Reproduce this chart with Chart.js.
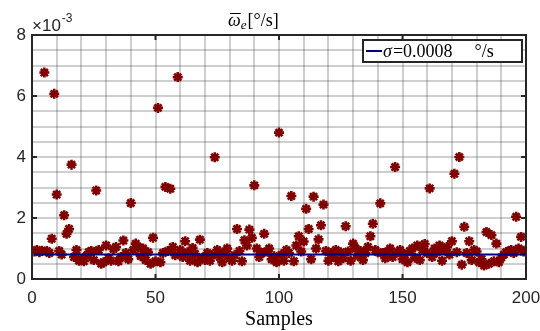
<!DOCTYPE html>
<html>
<head>
<meta charset="utf-8">
<script src="https://cdn.jsdelivr.net/npm/chart.js@4.4.1/dist/chart.umd.min.js"></script>
<style>
  html, body { margin: 0; padding: 0; background: #fff; }
  #wrap { width: 540px; height: 331px; }
</style>
</head>
<body>
<div id="wrap"><canvas id="errChart"></canvas></div>
<script>
// mean error per sample, in units of 10^-3 deg/s
const yExponent = -3;
const xTicks = [0, 50, 100, 150, 200];
const yTicks = [0, 2, 4, 6, 8];
const sigma = 0.0008;
const sigmaLabel = '0.0008';
const errValues = [
    0.90, 0.95, 0.88, 0.93, 6.77, 0.92, 0.85, 1.32, 6.07, 2.77,
    0.92, 0.80, 2.09, 1.48, 1.64, 3.75, 0.72, 0.95, 0.60, 0.65,
    0.58, 0.75, 0.88, 0.92, 0.62, 2.90, 0.95, 0.50, 0.55, 1.10,
    0.68, 0.60, 0.98, 1.05, 0.58, 0.72, 1.26, 0.85, 0.65, 2.49,
    0.95, 1.16, 1.05, 0.75, 1.00, 0.62, 0.88, 0.50, 1.35, 0.58,
    5.61, 0.55, 0.85, 3.02, 0.92, 2.96, 1.05, 0.78, 6.62, 0.95,
    0.72, 1.24, 0.88, 0.60, 1.02, 0.82, 0.55, 1.29, 0.70, 0.62,
    0.85, 0.60, 0.78, 3.99, 0.95, 0.72, 0.55, 0.88, 1.00, 0.68,
    0.60, 0.78, 1.64, 0.92, 0.58, 1.27, 1.10, 1.62, 1.35, 3.07,
    1.00, 0.72, 0.85, 1.48, 0.90, 1.00, 0.65, 0.75, 0.55, 4.80,
    0.80, 0.60, 0.95, 0.85, 2.72, 0.58, 1.10, 1.40, 0.90, 1.23,
    2.30, 1.64, 0.65, 2.70, 1.00, 1.30, 1.76, 2.44, 0.92, 0.60,
    0.85, 0.72, 0.95, 0.58, 0.88, 0.68, 1.73, 0.90, 0.60, 1.16,
    1.00, 0.75, 0.92, 0.62, 0.85, 1.05, 1.40, 1.81, 0.95, 0.88,
    2.48, 0.85, 0.68, 0.90, 1.00, 0.72, 3.67, 0.88, 0.95, 0.65,
    0.80, 0.55, 0.92, 1.00, 0.70, 1.10, 0.62, 0.95, 1.15, 0.85,
    2.97, 0.72, 1.00, 0.88, 1.10, 0.60, 0.95, 1.05, 0.80, 1.24,
    3.45, 0.88, 4.00, 0.47, 1.71, 0.85, 1.24, 0.62, 0.95, 0.90,
    0.55, 0.65, 0.44, 1.54, 0.50, 1.44, 0.58, 1.16, 0.55, 0.70,
    0.80, 0.88, 0.92, 0.95, 0.85, 2.04, 1.00, 1.38, 0.90, 0.95
];

const colors = {
    marker: '#800000',
    sigma: '#00007f',
    axis: '#262626',
    grid: 'rgba(0, 0, 0, 0.19)'
};

const points = errValues.map((v, i) => ({ x: i + 1, y: v }));
const sigmaScaled = sigma / Math.pow(10, yExponent);
const sigmaLine = [{ x: 1, y: sigmaScaled }, { x: errValues.length, y: sigmaScaled }];

// frame, inward ticks, exponent, title, x label and legend box
const axesDecor = {
    id: 'axesDecor',
    afterDraw(chart) {
        const { ctx, chartArea: a, scales: { x, y } } = chart;
        ctx.save();
        ctx.strokeStyle = colors.axis;
        ctx.lineWidth = 2;
        ctx.strokeRect(a.left, a.top, a.right - a.left, a.bottom - a.top);

        const tl = 5;
        ctx.beginPath();
        xTicks.forEach(v => {
            const px = x.getPixelForValue(v);
            ctx.moveTo(px, a.bottom); ctx.lineTo(px, a.bottom - tl);
            ctx.moveTo(px, a.top); ctx.lineTo(px, a.top + tl);
        });
        yTicks.forEach(v => {
            const py = y.getPixelForValue(v);
            ctx.moveTo(a.left, py); ctx.lineTo(a.left + tl, py);
            ctx.moveTo(a.right, py); ctx.lineTo(a.right - tl, py);
        });
        ctx.stroke();

        // x10^-3 above the y axis
        ctx.fillStyle = colors.axis;
        ctx.textBaseline = 'alphabetic';
        ctx.textAlign = 'left';
        ctx.font = '17px "Liberation Sans", Arial, sans-serif';
        ctx.fillText('\u00d710', a.left, a.top - 4);
        const w10 = ctx.measureText('\u00d710').width;
        ctx.font = '12px "Liberation Sans", Arial, sans-serif';
        ctx.fillText('-' + Math.abs(yExponent), a.left + w10 + 1, a.top - 13);

        // title: omega-bar sub e [deg/s]
        const serif = '"Liberation Serif", "Times New Roman", serif';
        let tx = 228;
        const ty = 26;
        ctx.fillStyle = '#000';
        ctx.font = 'italic 18px ' + serif;
        ctx.fillText('\u03c9', tx, ty);
        const wOm = ctx.measureText('\u03c9').width;
        ctx.strokeStyle = '#000';
        ctx.lineWidth = 1;
        ctx.beginPath();
        ctx.moveTo(tx + 2, ty - 12.5);
        ctx.lineTo(tx + wOm, ty - 12.5);
        ctx.stroke();
        tx += wOm;
        ctx.font = 'italic 13px ' + serif;
        ctx.fillText('e', tx, ty + 3);
        tx += ctx.measureText('e').width + 1;
        ctx.font = '18px ' + serif;
        ctx.fillText('[\u00b0/s]', tx, ty);

        // x axis label
        ctx.textAlign = 'center';
        ctx.font = '20px ' + serif;
        ctx.fillText('Samples', (a.left + a.right) / 2, 325);

        // legend box in the top right corner of the axes
        const bw = 159, bh = 22;
        const bx = a.right - 4 - bw, by = a.top + 5;
        ctx.fillStyle = '#fff';
        ctx.fillRect(bx, by, bw, bh);
        ctx.strokeStyle = colors.axis;
        ctx.lineWidth = 2;
        ctx.strokeRect(bx, by, bw, bh);
        ctx.strokeStyle = colors.sigma;
        ctx.beginPath();
        ctx.moveTo(bx + 3, by + bh / 2);
        ctx.lineTo(bx + 19, by + bh / 2);
        ctx.stroke();
        ctx.textAlign = 'left';
        ctx.fillStyle = '#000';
        let lx = bx + 20;
        const ly = by + bh - 5;
        ctx.font = 'italic 18px ' + serif;
        ctx.fillText('\u03c3', lx, ly);
        lx += ctx.measureText('\u03c3').width + 1;
        ctx.font = '18px ' + serif;
        ctx.fillText('=' + sigmaLabel, lx, ly);
        lx += ctx.measureText('=' + sigmaLabel).width + 22;
        ctx.fillText('\u00b0/s', lx, ly);
        ctx.restore();
    }
};

const tickFont = { family: '"Liberation Sans", Arial, sans-serif', size: 17 };

new Chart(document.getElementById('errChart').getContext('2d'), {
    type: 'scatter',
    data: {
        datasets: [{
            type: 'line',
            data: sigmaLine,
            borderColor: colors.sigma,
            borderWidth: 2,
            pointRadius: 0,
            order: 0
        }, {
            data: points,
            pointStyle: 'star',
            pointRadius: 5,
            pointBorderWidth: 2.6,
            pointBorderColor: colors.marker,
            pointBackgroundColor: colors.marker,
            order: 1
        }]
    },
    options: {
        animation: false,
        responsive: true,
        maintainAspectRatio: false,
        layout: { padding: { top: 35, right: 0, left: 0, bottom: 0 } },
        plugins: {
            legend: { display: false },
            tooltip: { enabled: false }
        },
        scales: {
            x: {
                type: 'linear',
                min: 0,
                max: 200,
                afterFit: s => { s.height = 52; s.paddingRight = 14; },
                border: { display: false },
                grid: { color: colors.grid, lineWidth: 2, drawTicks: false },
                ticks: {
                    stepSize: 10,
                    maxTicksLimit: 100,
                    autoSkip: false,
                    maxRotation: 0,
                    padding: 9,
                    color: colors.axis,
                    font: tickFont,
                    callback: v => (xTicks.includes(v) ? v : '')
                }
            },
            y: {
                min: 0,
                max: 8,
                afterFit: s => { s.width = 32; },
                border: { display: false },
                grid: { color: colors.grid, lineWidth: 2, drawTicks: false },
                ticks: {
                    stepSize: 0.5,
                    maxTicksLimit: 100,
                    autoSkip: false,
                    padding: 6,
                    color: colors.axis,
                    font: tickFont,
                    callback: v => (yTicks.includes(v) ? v : '')
                }
            }
        }
    },
    plugins: [axesDecor]
});
</script>
</body>
</html>
